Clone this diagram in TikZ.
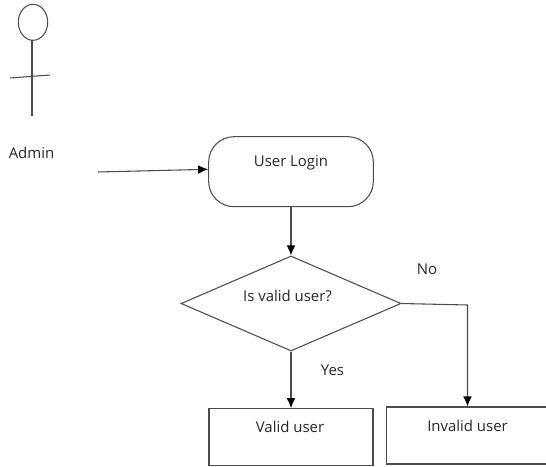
\documentclass[tikz,border=0pt]{standalone}
\usepackage{fontspec}
\setmainfont{Open Sans}
\usetikzlibrary{arrows.meta,shapes.geometric}
\definecolor{inkline}{gray}{0.3}
\tikzset{
 px/.style={x=0.75pt,y=-0.75pt},
 ln/.style={draw=inkline,line width=0.8pt},
 arr/.style={ln,-{Latex[length=7.5pt,width=6.5pt,color=black]}},
 lbl/.style={font=\fontsize{11.2pt}{13pt}\selectfont,inner sep=0pt,text=black!85}
}
\begin{document}
\begin{tikzpicture}[px]
\useasboundingbox (0,0) rectangle (546,467);
\draw[ln] (33,22.3) ellipse [x radius=14.7,y radius=18];
\coordinate (neck) at (32,40);
\coordinate (foot) at (32,116);
\draw[ln] (neck) -- (foot);
\coordinate (al) at (10,78);
\coordinate (ar) at (50,75);
\draw[ln] (al) -- (ar);
\node[lbl] (admin) at (31.5,153) {Admin};
\node[ln,draw,rounded corners=19pt,minimum width=123.5pt,minimum height=52.5pt,inner sep=0pt] (login) at (291,171.7) {};
\node[lbl] (logintext) at (291,163) {User Login};
\coordinate (start) at (98,172);
\draw[arr] (start) -- ([yshift=1.8pt]login.west);
\node[ln,draw,diamond,aspect=2.316,minimum width=165pt,minimum height=71.25pt,inner sep=0pt] (dec) at (291,303.5) {};
\node[lbl] (dectext) at (287.5,295.5) {Is valid user?};
\draw[arr] (login.south) -- (dec.north);
\node[ln,draw,minimum width=123pt,minimum height=42.75pt,inner sep=0pt] (valid) at (291,437.2) {};
\node[lbl] (validtext) at (290,427) {Valid user};
\node[ln,draw,minimum width=121pt,minimum height=42.75pt,inner sep=0pt] (invalid) at (467,435.5) {};
\node[lbl] (invalidtext) at (467.5,425.5) {Invalid user};
\draw[arr] (dec.south) -- (valid.north);
\coordinate (bend) at (467.5,305);
\draw[arr] (dec.east) -- (bend) -- (invalid.north -| bend);
\node[lbl] (yes) at (332.5,370) {Yes};
\node[lbl] (no) at (427,269) {No};
\end{tikzpicture}
\end{document}
